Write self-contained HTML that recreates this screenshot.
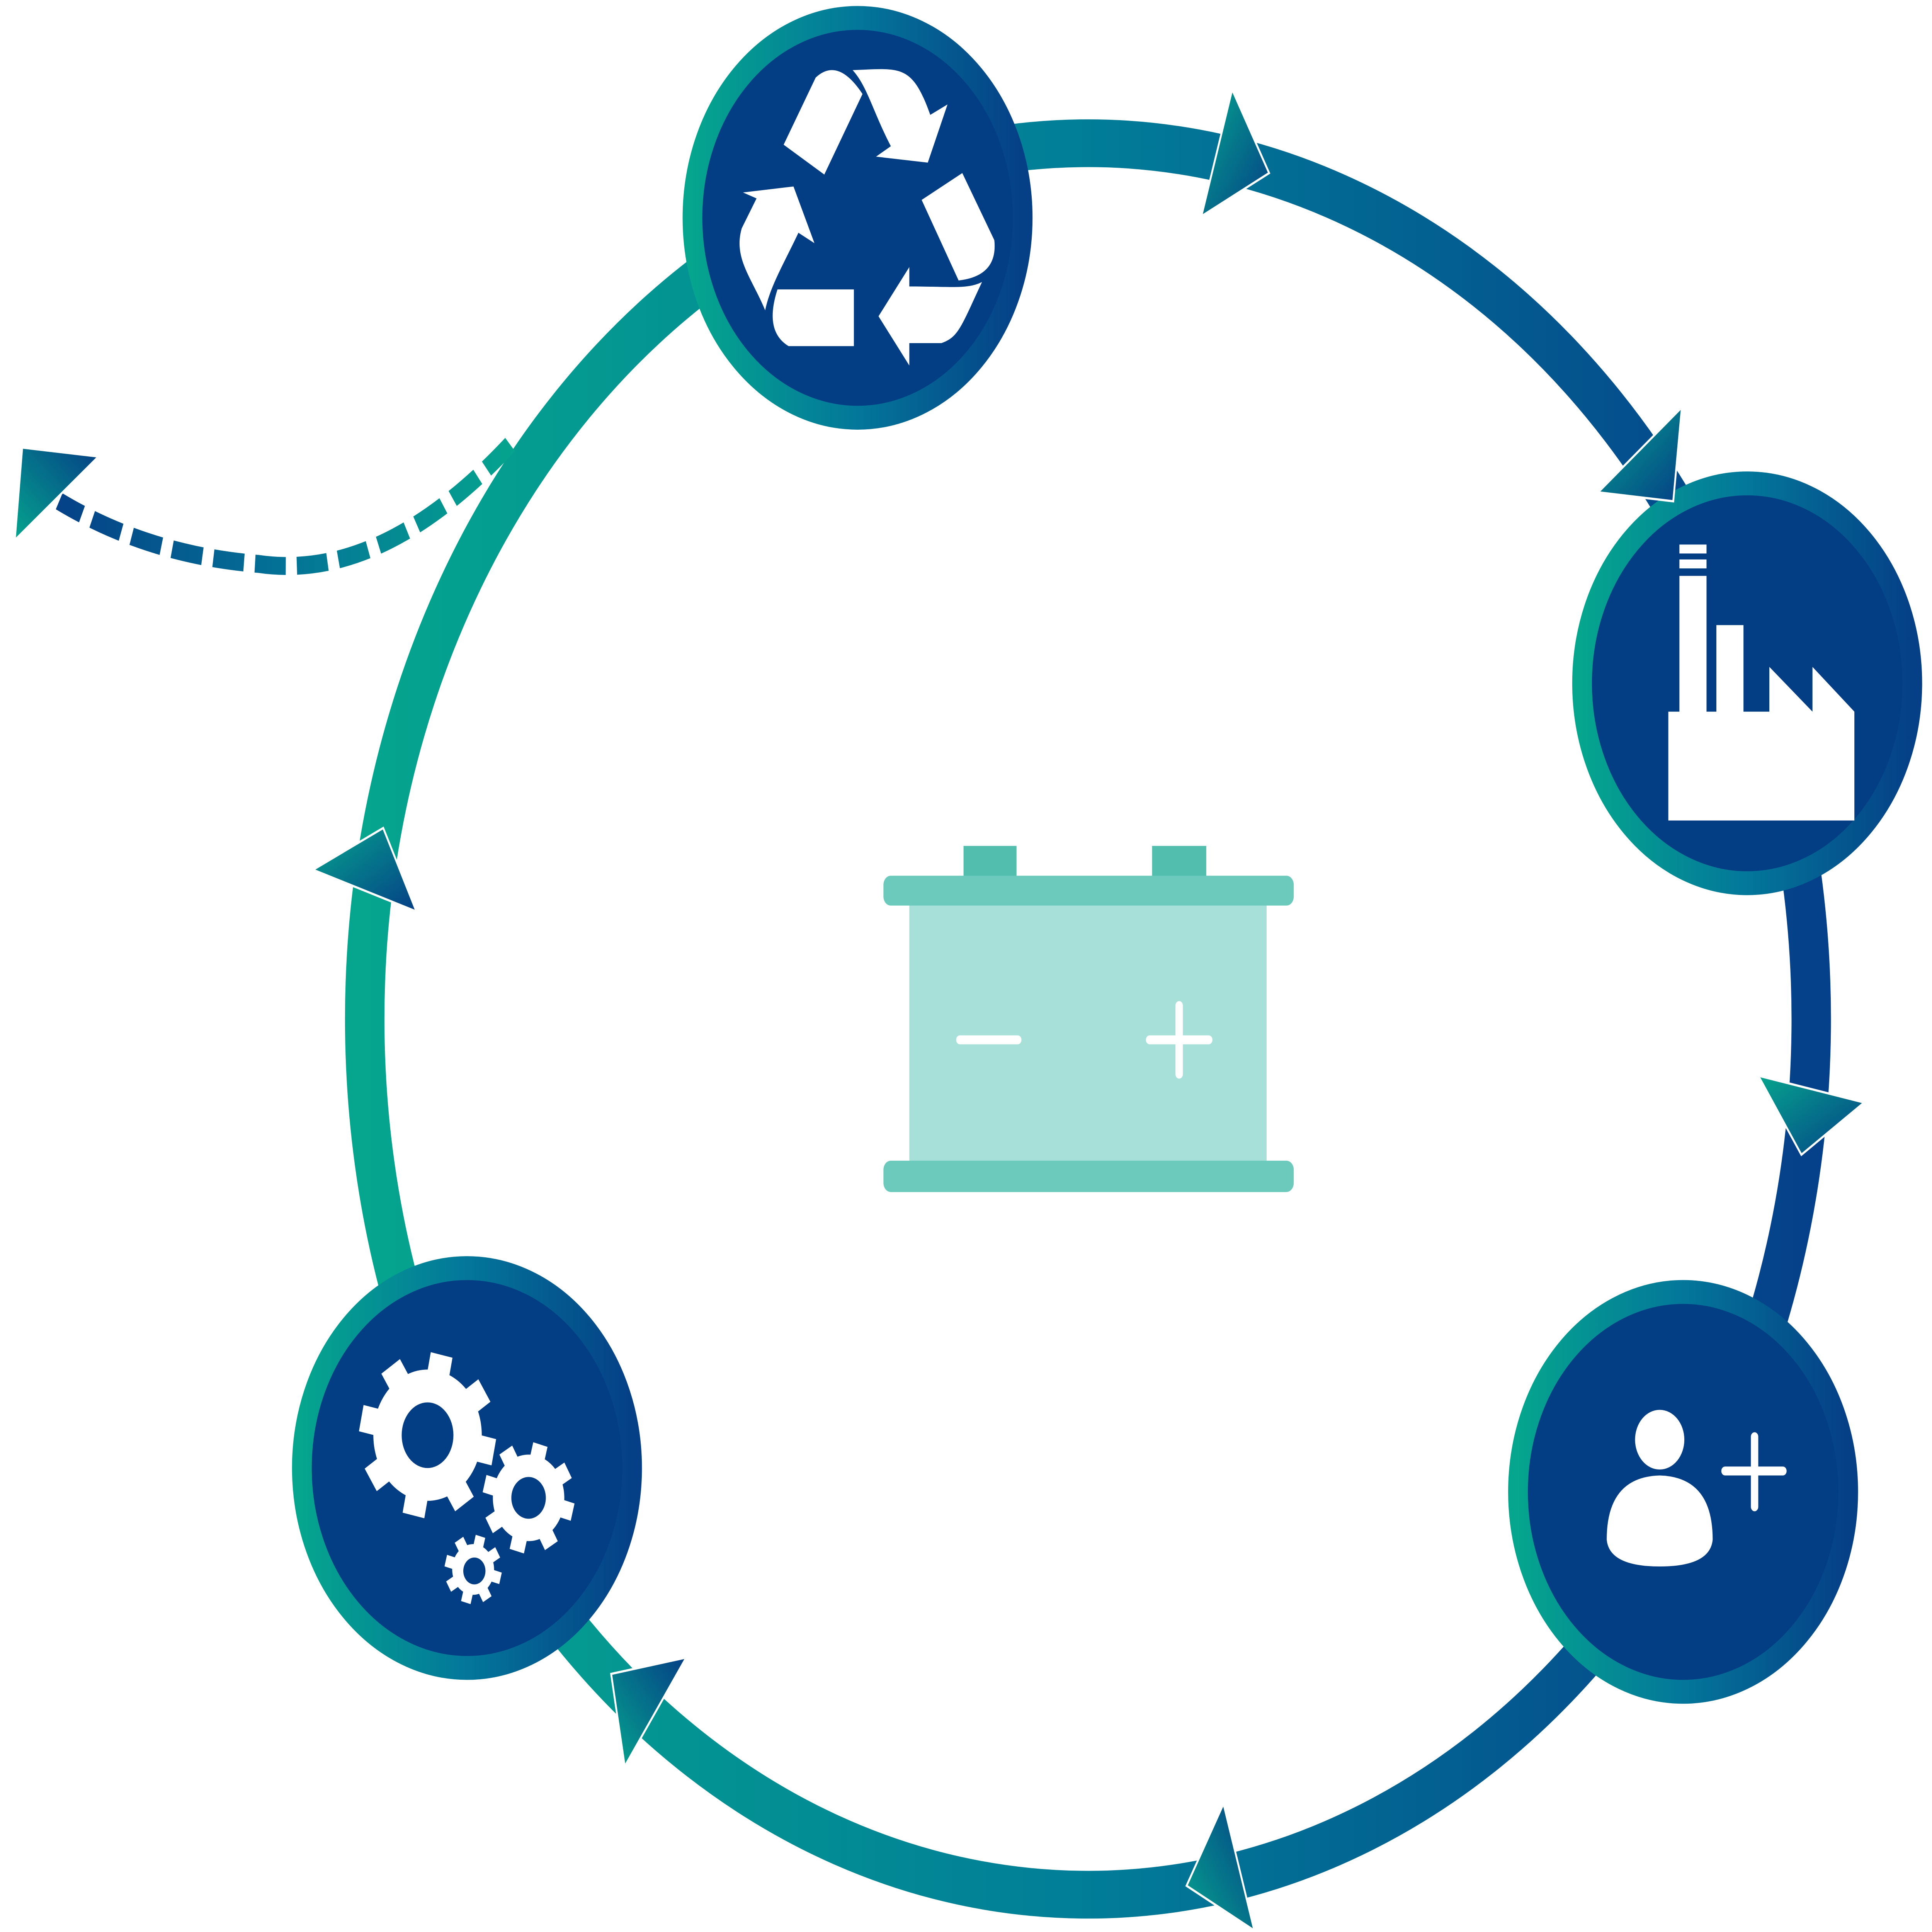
<!DOCTYPE html>
<html><head><meta charset="utf-8"><style>
html,body{margin:0;padding:0;background:#fff;width:100vw;height:100vh;overflow:hidden}
svg{display:block;width:100vw;height:100vh}
</style></head><body>
<svg viewBox="0 0 1568 1295" preserveAspectRatio="none" xmlns="http://www.w3.org/2000/svg">
<defs>
<linearGradient id="ring" x1="0" y1="0" x2="1" y2="0">
<stop offset="0" stop-color="#05a58e"/><stop offset="0.5" stop-color="#017d98"/><stop offset="1" stop-color="#05408a"/>
</linearGradient>
<linearGradient id="nring" x1="0" y1="0" x2="1" y2="0">
<stop offset="0" stop-color="#05a58e"/><stop offset="0.5" stop-color="#03779a"/><stop offset="1" stop-color="#053f86"/>
</linearGradient>
<linearGradient id="dash" gradientUnits="userSpaceOnUse" x1="40" y1="0" x2="420" y2="0">
<stop offset="0" stop-color="#053f86"/><stop offset="0.5" stop-color="#037296"/><stop offset="1" stop-color="#05a58e"/>
</linearGradient>
<linearGradient id="tri" x1="0" y1="0" x2="1" y2="1">
<stop offset="0" stop-color="#05a58e"/><stop offset="1" stop-color="#053f86"/>
</linearGradient>
<linearGradient id="tri2" x1="1" y1="0" x2="0" y2="1">
<stop offset="0" stop-color="#053f86"/><stop offset="1" stop-color="#05a58e"/>
</linearGradient>
</defs>

<circle cx="883" cy="683" r="587" fill="none" stroke="url(#ring)" stroke-width="32"/>

<path d="M414,298 Q310,390 210,378 Q120,372 48,336" fill="none" stroke="url(#dash)" stroke-width="12" stroke-dasharray="25,9"/>

<g>
<circle cx="696" cy="146" r="134" fill="#033d84" stroke="url(#nring)" stroke-width="16"/>
<circle cx="1418" cy="458" r="134" fill="#033d84" stroke="url(#nring)" stroke-width="16"/>
<circle cx="1366" cy="1000" r="134" fill="#033d84" stroke="url(#nring)" stroke-width="16"/>
<circle cx="379" cy="984" r="134" fill="#033d84" stroke="url(#nring)" stroke-width="16"/>
</g>

<g stroke="#fff" stroke-width="1.5">
<polygon points="1000,60 975,145 1030,116" fill="url(#tri)"/>
<polygon points="1365,273 1297,330 1358,336" fill="url(#tri)"/>
<polygon points="1427,721 1513,739 1462,774" fill="url(#tri)"/>
<polygon points="993,1209 963,1264 1018,1294" fill="url(#tri2)"/>
<polygon points="557,1111 496,1122 507,1184" fill="url(#tri2)"/>
<polygon points="254,583 311,555 338,611" fill="url(#tri)"/>
<polygon points="80,306 18,300 12,362" fill="url(#tri2)"/>
</g>

<g fill="#fff">
<path d="M636,97 L662,52 Q680,38 700,63 L669,117 Z"/>
<path d="M692,47 C730,46 740,42 755,77 L769,70 L753,109 L711,105 L723,98 C708,74 704,58 692,47 Z"/>
<path d="M748,134 L781,116 L807,161 Q810,185 778,188 Z"/>
<path d="M797,189 C780,219 778,226 764,230 L738,230 L738,245 L713,212 L738,179 L738,192 C772,192 785,194 797,189 Z"/>
<path d="M631,194 L693,194 L693,232 L640,232 Q620,222 631,194 Z"/>
<path d="M603,129 L644,125 L661,163 L648,156 C636,177 625,192 621,208 C610,186 595,173 602,153 L614,133 Z"/>
</g>

<g fill="#fff">
<rect x="1363" y="365" width="22" height="6"/>
<rect x="1363" y="375" width="22" height="6"/>
<polygon points="1354,550 1505,550 1505,477 1471,447 1471,477 1436,447 1436,477 1415,477 1415,419 1393,419 1393,477 1385,477 1385,386 1363,386 1363,477 1354,477"/>
</g>

<g fill="#fff">
<circle cx="1347" cy="965" r="20"/>
<path d="M1304,1032 Q1304,990 1347,989 Q1390,990 1390,1032 Q1388,1050 1347,1050 Q1306,1050 1304,1032 Z"/>
</g>
<g stroke="#fff" stroke-width="6" stroke-linecap="round">
<line x1="1424" y1="963" x2="1424" y2="1010"/>
<line x1="1400" y1="986" x2="1447" y2="986"/>
</g>

<g fill="#fff">
<circle cx="347" cy="962" r="44"/>
<g transform="translate(347,962) rotate(12)">
<rect x="-9" y="-55" width="18" height="22"/><rect x="-9" y="33" width="18" height="22"/>
<rect x="-55" y="-9" width="22" height="18"/><rect x="33" y="-9" width="22" height="18"/>
<g transform="rotate(45)"><rect x="-9" y="-55" width="18" height="22"/><rect x="-9" y="33" width="18" height="22"/><rect x="-55" y="-9" width="22" height="18"/><rect x="33" y="-9" width="22" height="18"/></g>
</g>
<circle cx="429" cy="1004" r="29"/>
<g transform="translate(429,1004) rotate(15)">
<rect x="-6" y="-37" width="12" height="14"/><rect x="-6" y="23" width="12" height="14"/>
<rect x="-37" y="-6" width="14" height="12"/><rect x="23" y="-6" width="14" height="12"/>
<g transform="rotate(45)"><rect x="-6" y="-37" width="12" height="14"/><rect x="-6" y="23" width="12" height="14"/><rect x="-37" y="-6" width="14" height="12"/><rect x="23" y="-6" width="14" height="12"/></g>
</g>
<circle cx="384" cy="1052" r="17"/>
<g transform="translate(384,1052) rotate(15)">
<rect x="-4" y="-23" width="8" height="9"/><rect x="-4" y="14" width="8" height="9"/>
<rect x="-23" y="-4" width="9" height="8"/><rect x="14" y="-4" width="9" height="8"/>
<g transform="rotate(45)"><rect x="-4" y="-23" width="8" height="9"/><rect x="-4" y="14" width="8" height="9"/><rect x="-23" y="-4" width="9" height="8"/><rect x="14" y="-4" width="9" height="8"/></g>
</g>
</g>
<g fill="#033d84">
<ellipse cx="347" cy="962" rx="21" ry="22"/>
<ellipse cx="429" cy="1004" rx="14" ry="14"/>
<ellipse cx="385" cy="1053" rx="9" ry="9"/>
</g>

<rect x="782" y="567" width="43" height="22" fill="#52bfae"/>
<rect x="935" y="567" width="44" height="22" fill="#52bfae"/>
<rect x="738" y="605" width="290" height="175" fill="#a7e0d9"/>
<rect x="717" y="587" width="333" height="20" rx="6" fill="#6ccabd"/>
<rect x="717" y="778" width="333" height="21" rx="6" fill="#6ccabd"/>
<g stroke="#fff" stroke-width="6" stroke-linecap="round">
<line x1="779" y1="697" x2="826" y2="697"/>
<line x1="933" y1="697" x2="981" y2="697"/>
<line x1="957" y1="674" x2="957" y2="720"/>
</g>
</svg>
</body></html>
